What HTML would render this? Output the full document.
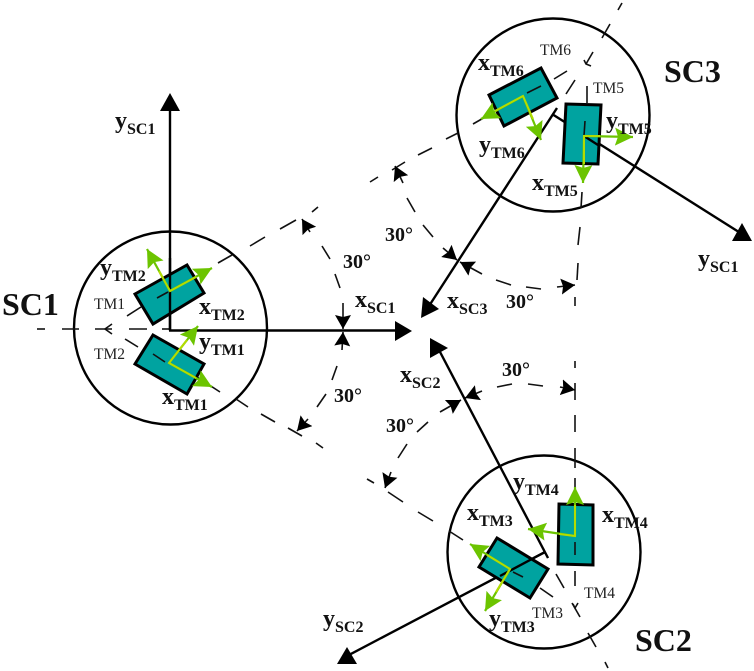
<!DOCTYPE html>
<html><head><meta charset="utf-8"><style>
html,body{margin:0;padding:0;background:#fff}
svg{display:block}
.d line,.d path{stroke:#111;stroke-width:1.6;fill:none}
.s{stroke:#000;stroke-width:2.400;fill:none}
.r{fill:#00a3a0;stroke:#000;stroke-width:3;stroke-linejoin:miter}
.g{stroke:#6cc400;stroke-width:2.200;fill:none}
.gi{stroke:#b4dc00;stroke-width:2;fill:none}
.t{font-family:"Liberation Serif",serif;font-weight:bold;font-size:24px;fill:#111}
.t tspan{font-size:16px}
.b{font-family:"Liberation Serif",serif;font-weight:bold;font-size:32px;fill:#111}
.a{font-family:"Liberation Serif",serif;font-weight:bold;font-size:20px;fill:#111}
.l{font-family:"Liberation Serif",serif;font-size:15.500px;fill:#222}
</style></head><body>
<svg width="754" height="671" viewBox="0 0 754 671" xmlns="http://www.w3.org/2000/svg">
<defs>
<marker id="m" markerUnits="userSpaceOnUse" markerWidth="20" markerHeight="20" refX="14" refY="8" orient="auto"><path d="M0,0 L14,8 L0,16 L2,8 Z" fill="#000"/></marker>
<marker id="gm" markerUnits="userSpaceOnUse" markerWidth="24" markerHeight="24" refX="18" refY="9" orient="auto"><path d="M0,0 L18,9 L0,18 L3,9 Z" fill="#6cc400"/></marker>
</defs>

<circle cx="170.500" cy="328" r="96.500" fill="none" stroke="#000" stroke-width="2.400"/>
<circle cx="553" cy="115" r="96.500" fill="none" stroke="#000" stroke-width="2.400"/>
<circle cx="544" cy="552" r="96.500" fill="none" stroke="#000" stroke-width="2.400"/>

<g class="d">
<line x1="37" y1="329" x2="45" y2="329"/><line x1="62" y1="329" x2="79" y2="329"/><line x1="95" y1="329" x2="112" y2="329"/><line x1="129" y1="329" x2="147" y2="329"/><line x1="162" y1="329" x2="170" y2="329"/>
<path d="M112,324 L105,329 L112,334"/>
<line x1="127" y1="316" x2="141" y2="307"/>
<line x1="218" y1="263" x2="232" y2="255"/><line x1="250" y1="246" x2="265" y2="237"/><line x1="280" y1="229" x2="296" y2="220"/><line x1="312" y1="212" x2="318" y2="207"/><line x1="370" y1="182" x2="378" y2="177"/><line x1="392" y1="170" x2="405" y2="162"/><line x1="418" y1="155" x2="432" y2="148"/><line x1="446" y1="139" x2="458" y2="133"/><line x1="473" y1="124" x2="487" y2="116"/><line x1="554" y1="79" x2="567" y2="71"/>
<line x1="125" y1="339" x2="138" y2="347"/>
<line x1="197" y1="377" x2="220" y2="392"/><line x1="236" y1="399" x2="248" y2="407"/><line x1="261" y1="414" x2="275" y2="422"/><line x1="288" y1="428" x2="302" y2="436"/><line x1="316" y1="443" x2="323" y2="448"/><line x1="367" y1="479" x2="374" y2="483"/><line x1="388" y1="492" x2="403" y2="502"/><line x1="418" y1="512" x2="433" y2="521"/><line x1="449" y1="531" x2="463" y2="540"/><line x1="540" y1="588" x2="553" y2="597"/>
<line x1="622" y1="3" x2="618" y2="10"/><line x1="610" y1="24" x2="602" y2="38"/><line x1="593" y1="52" x2="586" y2="64"/><line x1="575" y1="80" x2="566" y2="94"/>
<path d="M584,60 L586,64 L591,66"/>
<line x1="587" y1="86" x2="587" y2="103"/><line x1="582" y1="192" x2="581" y2="208"/><line x1="580" y1="227" x2="578" y2="245"/><line x1="578" y1="263" x2="577" y2="280"/><line x1="575" y1="297" x2="575" y2="306"/><line x1="575" y1="361" x2="575" y2="368"/><line x1="575" y1="383" x2="575" y2="400"/><line x1="575" y1="415" x2="575" y2="432"/><line x1="575" y1="448" x2="575" y2="468"/><line x1="575" y1="478" x2="575" y2="488"/><line x1="575" y1="571" x2="575" y2="586"/>
<line x1="543" y1="548" x2="548" y2="558"/><line x1="556" y1="574" x2="564" y2="588"/><line x1="572" y1="603" x2="580" y2="617"/><line x1="588" y1="633" x2="596" y2="647"/><line x1="605" y1="662" x2="608" y2="668"/>
<path d="M573,604 L575,608 L578,603"/>

<line x1="322" y1="246" x2="330" y2="259"/><line x1="335" y1="274" x2="340" y2="288"/>
<line x1="310" y1="232" x2="302" y2="219" marker-end="url(#m)"/>
<line x1="343" y1="303" x2="343" y2="329" marker-end="url(#m)"/>
<line x1="342" y1="350" x2="343" y2="332" marker-end="url(#m)"/>
<line x1="337" y1="366" x2="332" y2="380"/><line x1="326" y1="394" x2="317" y2="407"/>
<line x1="308" y1="419" x2="297" y2="431" marker-end="url(#m)"/>
<line x1="403" y1="183" x2="395" y2="166" marker-end="url(#m)"/>
<line x1="407" y1="198" x2="415" y2="212"/><line x1="423" y1="225" x2="433" y2="237"/>
<line x1="443" y1="248" x2="457" y2="260" marker-end="url(#m)"/>
<line x1="482" y1="274" x2="460" y2="262" marker-end="url(#m)"/>
<line x1="496" y1="280" x2="511" y2="285"/><line x1="526" y1="287" x2="541" y2="289"/>
<line x1="557" y1="287" x2="575" y2="285" marker-end="url(#m)"/>
<line x1="560" y1="387" x2="575" y2="390" marker-end="url(#m)"/>
<line x1="528" y1="384" x2="543" y2="386"/><line x1="497" y1="387" x2="512" y2="384"/>
<line x1="482" y1="391" x2="465" y2="398" marker-end="url(#m)"/>
<line x1="440" y1="412" x2="461" y2="400" marker-end="url(#m)"/>
<line x1="428" y1="422" x2="417" y2="432"/><line x1="407" y1="444" x2="398" y2="458"/>
<line x1="391" y1="472" x2="385" y2="488" marker-end="url(#m)"/>
</g>

<!-- black axes -->
<line class="s" x1="170" y1="330.500" x2="170" y2="108"/>
<path d="M170,93 L160,111 L180,111 Z"/>
<line class="s" x1="169" y1="330.500" x2="397" y2="330.500"/>
<path d="M412,331 L395,321 L395,341 Z"/>
<line class="s" x1="557" y1="108" x2="429" y2="306"/>
<path d="M421,318 L439,309 L423,297 Z"/>
<line class="s" x1="552" y1="114" x2="742" y2="234"/>
<path d="M742,223 L732,241 L752,241 Z"/>
<line class="s" x1="548" y1="558" x2="439" y2="350"/>
<path d="M430,338 L448,348 L430,358 Z"/>
<line class="s" x1="545" y1="552" x2="345" y2="657"/>
<path d="M347,647 L337,664 L357,664 Z"/>

<!-- rects -->
<polygon class="r" points="135,294 187,265 204,293 153,324"/>
<polygon class="r" points="153,335 204,364 187,394 135,364"/>
<polygon class="r" points="489,95 541,68 557,98 504,126"/>
<polygon class="r" points="566,104 601,105 598,164 563,163"/>
<polygon class="r" points="497,538 548,569 530,598 479,567"/>
<polygon class="r" points="559,504 593,505 593,565 558,564"/>
<line x1="170" y1="258" x2="170" y2="330" stroke="#000" stroke-width="2.400"/>
<line x1="584" y1="136" x2="598" y2="145" stroke="#000" stroke-width="2.400"/>
<line x1="545" y1="552" x2="500" y2="576" stroke="#000" stroke-width="2.400"/>

<g class="d">
<line x1="157" y1="298" x2="168" y2="292"/><line x1="153" y1="354" x2="165" y2="362"/>
<line x1="527" y1="93" x2="541" y2="86"/><line x1="585" y1="121" x2="584" y2="136"/>
<line x1="513" y1="572" x2="523" y2="577"/><line x1="575" y1="542" x2="575" y2="555"/>
</g>

<!-- green -->
<line class="g" x1="170" y1="291" x2="147" y2="249" marker-end="url(#gm)"/>
<line class="g" x1="170" y1="291" x2="212" y2="268" marker-end="url(#gm)"/>
<line class="g" x1="169" y1="363" x2="198" y2="326" marker-end="url(#gm)"/>
<line class="g" x1="169" y1="363" x2="212" y2="387" marker-end="url(#gm)"/>
<line class="g" x1="523" y1="96" x2="481" y2="119" marker-end="url(#gm)"/>
<line class="g" x1="523" y1="96" x2="541" y2="140" marker-end="url(#gm)"/>
<line class="g" x1="584" y1="136" x2="633" y2="137" marker-end="url(#gm)"/>
<line class="g" x1="584" y1="136" x2="583" y2="183" marker-end="url(#gm)"/>
<line class="g" x1="510" y1="569" x2="470" y2="544" marker-end="url(#gm)"/>
<line class="g" x1="510" y1="569" x2="485" y2="611" marker-end="url(#gm)"/>
<line class="g" x1="575" y1="536" x2="575" y2="487" marker-end="url(#gm)"/>
<line class="g" x1="575" y1="536" x2="528" y2="529" marker-end="url(#gm)"/>
<path class="gi" d="M159,271 L170,291 L196,277"/>
<path class="gi" d="M187,340 L169,363 L196,378"/>
<path class="gi" d="M495,111 L523,96 L533,119"/>
<path class="gi" d="M600,136 L584,136 L584,164"/>
<path class="gi" d="M487,555 L510,569 L496,592"/>
<path class="gi" d="M575,505 L575,536 L559,534"/>

<!-- labels -->
<text class="t" x="100" y="275">y<tspan dy="6">TM2</tspan></text>
<text class="t" x="199" y="314">x<tspan dy="6">TM2</tspan></text>
<text class="t" x="199" y="349">y<tspan dy="6">TM1</tspan></text>
<text class="t" x="162" y="404">x<tspan dy="6">TM1</tspan></text>
<text class="t" x="115" y="128">y<tspan dy="6">SC1</tspan></text>
<text class="t" x="355" y="307">x<tspan dy="6">SC1</tspan></text>
<text class="t" x="447" y="308">x<tspan dy="6">SC3</tspan></text>
<text class="t" x="400" y="382">x<tspan dy="6">SC2</tspan></text>
<text class="t" x="698" y="266">y<tspan dy="6">SC1</tspan></text>
<text class="t" x="323" y="626">y<tspan dy="6">SC2</tspan></text>
<text class="t" x="479" y="152">y<tspan dy="6">TM6</tspan></text>
<text class="t" x="478" y="70">x<tspan dy="6">TM6</tspan></text>
<text class="t" x="606" y="128">y<tspan dy="6">TM5</tspan></text>
<text class="t" x="532" y="190">x<tspan dy="6">TM5</tspan></text>
<text class="t" x="513" y="489">y<tspan dy="6">TM4</tspan></text>
<text class="t" x="602" y="522">x<tspan dy="6">TM4</tspan></text>
<text class="t" x="467" y="520">x<tspan dy="6">TM3</tspan></text>
<text class="t" x="489" y="626">y<tspan dy="6">TM3</tspan></text>
<text class="b" x="2" y="315">SC1</text>
<text class="b" x="664" y="82">SC3</text>
<text class="b" x="635" y="651">SC2</text>
<text class="l" x="94" y="309">TM1</text>
<text class="l" x="94" y="359">TM2</text>
<text class="l" x="540" y="55">TM6</text>
<text class="l" x="593" y="93">TM5</text>
<text class="l" x="532" y="618">TM3</text>
<text class="l" x="584" y="598">TM4</text>
<text class="a" x="385" y="241">30°</text>
<text class="a" x="343" y="268">30°</text>
<text class="a" x="506" y="308">30°</text>
<text class="a" x="502" y="376">30°</text>
<text class="a" x="386" y="432">30°</text>
<text class="a" x="334" y="402">30°</text>
</svg>
</body></html>
